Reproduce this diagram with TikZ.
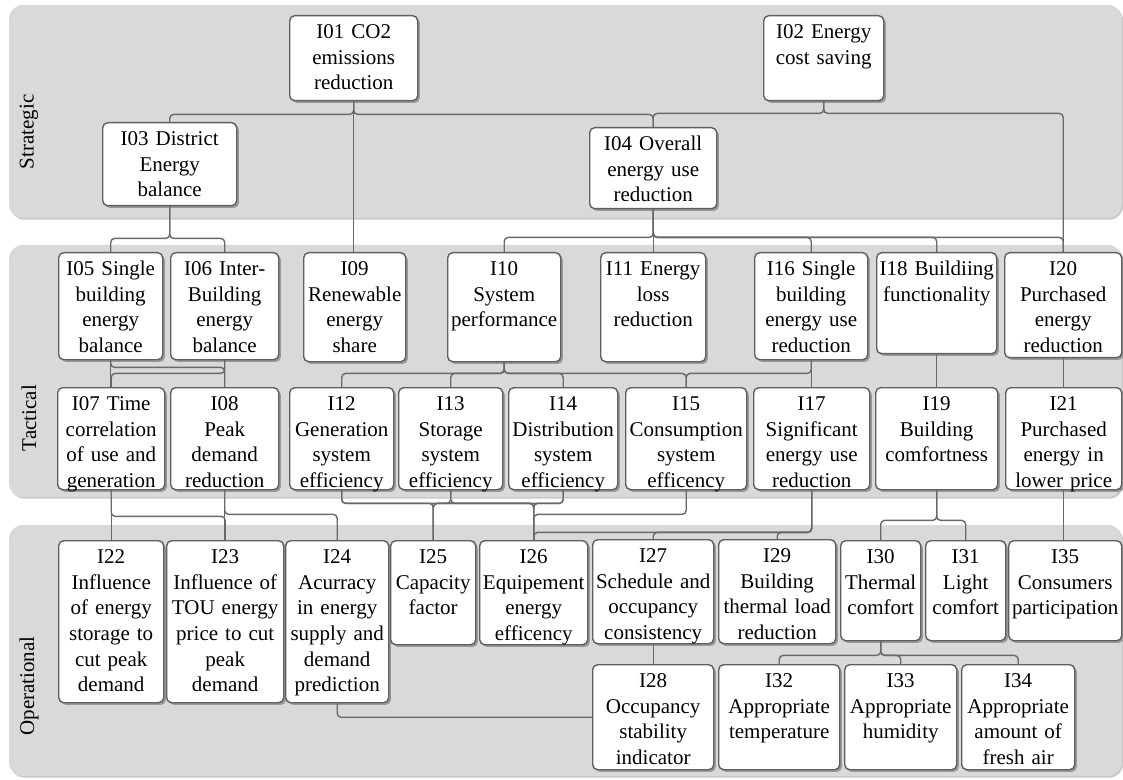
\documentclass[tikz,border=0pt]{standalone}
\usepackage{fontspec}
\setmainfont{Liberation Serif}
\usetikzlibrary{shadows}
\definecolor{bandgray}{RGB}{217,217,217}
\definecolor{boxline}{RGB}{96,96,96}
\definecolor{linkgray}{RGB}{105,105,105}
% indicator box: name, left, top, right, bottom, text
\newcommand\indbox[6]{%
  \pgfmathsetmacro\boxw{(#4-#2)*0.5}%
  \pgfmathsetmacro\boxd{(#5-#3)*0.5-11.5}%
  \node[ind,text width=\boxw pt,text depth=\boxd pt] (#1) at (#2,#3) {#6};}
\begin{document}
\begin{tikzpicture}[x=0.5pt,y=-0.5pt,
  ind/.style={draw=boxline,line width=0.7pt,fill=white,rounded corners=2.5pt,anchor=north west,inner sep=0pt,text height=11.5pt,align=center,font=\fontsize{10.5}{12.8}\selectfont,drop shadow={shadow xshift=1.1pt,shadow yshift=-1.1pt,fill=black!40,opacity=1}},
  link/.style={draw=linkgray,line width=0.7pt,rounded corners=2pt},
  band/.style={fill=bandgray,rounded corners=7pt,drop shadow={shadow xshift=0.6pt,shadow yshift=-0.8pt,fill=black!22,opacity=1}},
  level/.style={rotate=90,font=\fontsize{10.5}{12.8}\selectfont}]
\useasboundingbox (0,0) rectangle (1123,780);
% Bands
\fill[band] (9,5) rectangle (1122,218);
\fill[band] (9,245) rectangle (1122,497);
\fill[band] (9,525) rectangle (1122,776);
\node[level] (strategic) at (29,132) {Strategic};
\node[level] (tactical) at (29,418) {Tactical};
\node[level] (operational) at (29,686) {Operational};
% Strategic indicators
\indbox{i01}{289}{15}{417}{100}{I01 CO2\\emissions\\reduction}
\indbox{i02}{763}{15}{883}{100}{I02 Energy\\cost saving}
\indbox{i03}{102}{122}{236}{205}{I03 District\\Energy\\balance}
\indbox{i04}{589}{127}{716}{208}{I04 Overall\\energy use\\reduction}
% Tactical indicators, first row
\indbox{i05}{58}{252}{162}{359}{I05 Single\\building\\energy\\balance}
\indbox{i06}{170}{252}{278}{359}{I06 Inter-\\Building\\energy\\balance}
\indbox{i09}{303}{252}{405}{361}{I09\\Renewable\\energy\\share}
\indbox{i10}{447}{252}{560}{361}{I10\\System\\performance}
\indbox{i11}{600}{252}{705}{361}{I11 Energy\\loss\\reduction}
\indbox{i16}{754}{252}{867}{359}{I16 Single\\building\\energy use\\reduction}
\indbox{i18}{876}{252}{996}{353}{I18 Buildiing\\functionality}
\indbox{i20}{1004}{252}{1121}{357}{I20\\Purchased\\energy\\reduction}
% Tactical indicators, second row
\indbox{i07}{57}{387}{164}{489}{I07 Time\\correlation\\of use and\\generation}
\indbox{i08}{170}{387}{278}{489}{I08\\Peak\\demand\\reduction}
\indbox{i12}{289}{387}{393}{489}{I12\\Generation\\system\\efficiency}
\indbox{i13}{398}{387}{502}{489}{I13\\Storage\\system\\efficiency}
\indbox{i14}{508}{387}{617}{489}{I14\\Distribution\\system\\efficiency}
\indbox{i15}{625}{387}{746}{489}{I15\\Consumption\\system\\efficency}
\indbox{i17}{753}{387}{869}{489}{I17\\Significant\\energy use\\reduction}
\indbox{i19}{875}{387}{997}{489}{I19\\Building\\comfortness}
\indbox{i21}{1005}{387}{1121}{489}{I21\\Purchased\\energy in\\lower price}
% Operational indicators
\indbox{i22}{58}{540}{163}{702}{I22\\Influence\\of energy\\storage to\\cut peak\\demand}
\indbox{i23}{166}{540}{283}{702}{I23\\Influence of\\TOU energy\\price to cut\\peak\\demand}
\indbox{i24}{285}{540}{388}{702}{I24\\Acurracy\\in energy\\supply and\\demand\\prediction}
\indbox{i25}{390}{540}{475}{644}{I25\\Capacity\\factor}
\indbox{i26}{479}{540}{587}{644}{I26\\Equipement\\energy\\efficency}
\indbox{i27}{592}{539}{713}{643}{I27\\Schedule and\\occupancy\\consistency}
\indbox{i29}{718}{539}{835}{643}{I29\\Building\\thermal load\\reduction}
\indbox{i30}{840}{540}{920}{640}{I30\\Thermal\\comfort}
\indbox{i31}{925}{540}{1005}{640}{I31\\Light\\comfort}
\indbox{i35}{1008}{540}{1121}{640}{I35\\Consumers\\participation}
\indbox{i28}{592}{664}{713}{769}{I28\\Occupancy\\stability\\indicator}
\indbox{i32}{718}{664}{839}{769}{I32\\Appropriate\\temperature}
\indbox{i33}{844}{664}{956}{769}{I33\\Appropriate\\humidity}
\indbox{i34}{961}{664}{1074}{769}{I34\\Appropriate\\amount of\\fresh air}
% Links from strategic level
\draw[link] (i01.south) -- ++(0,13) -| (i03.north);
\draw[link] (i01.south) -- ++(0,13) -| (i04.north);
\draw[link] (i01.south) -- (i01.south |- i09.north);
\draw[link] (i02.south) -- ++(0,12) -| (i04.north);
\draw[link] (i02.south) -- ++(0,12) -| (i20.north);
\draw[link] (i03.south) -- ++(0,32) -| (i05.north);
\draw[link] (i03.south) -- ++(0,32) -| (i06.north);
\foreach \t in {i10,i11,i16,i18,i20}
  \draw[link] (i04.south) -- ++(0,28) -| (\t.north);
% Links inside tactical level
\draw[link] (i05.south) -- (i05.south |- i07.north);
\draw[link] (i06.south) -- (i06.south |- i08.north);
\draw[link] (i05.south) -- ++(0,7) -| (i08.north);
\draw[link] (i06.south) -- ++(0,13) -| (i07.north);
\foreach \t in {i12,i13,i14,i15}
  \draw[link] (i10.south) -- ++(0,11) -| (\t.north);
\draw[link] (i16.south) -- ++(0,13) -| (i15.north);
\draw[link] (i16.south) -- (i16.south |- i17.north);
\draw[link] (i18.south) -- (i18.south |- i19.north);
\draw[link] (i20.south) -- (i20.south |- i21.north);
% Links to operational level
\draw[link] (i07.south) -- (i07.south |- i22.north);
\draw[link] (i07.south) -- ++(0,26) -| (i23.north);
\draw[link] (i08.south) -- (i08.south |- i23.north);
\draw[link] (i08.south) -- ++(0,24) -| (i24.north);
\foreach \s in {i12,i13,i14} {
  \draw[link] (\s.south) -- ++(0,13) -| (i25.north);
  \draw[link] (\s.south) -- ++(0,13) -| (i26.north);
}
\draw[link] (i15.south) -- ++(0,24) -| (i26.north);
\foreach \t in {i26,i27,i29}
  \draw[link] (i17.south) -- ++(0,42) -| (\t.north);
\draw[link] (i19.south) -- ++(0,30) -| (i30.north);
\draw[link] (i19.south) -- ++(0,30) -| (i31.north);
\draw[link] (i21.south) -- (i21.south |- i35.north);
% Links inside operational level
\draw[link] (i27.south) -- (i27.south |- i28.north);
\draw[link] (i24.south) |- (i28.west);
\foreach \t in {i32,i33,i34}
  \draw[link] (i30.south) -- ++(0,14) -| (\t.north);
\end{tikzpicture}
\end{document}
